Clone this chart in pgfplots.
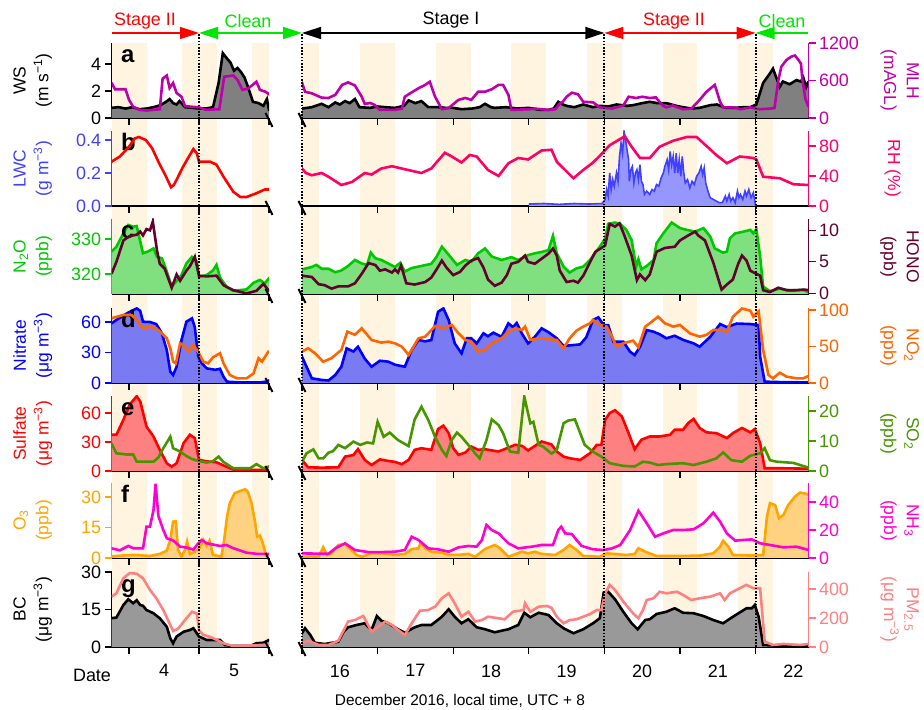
\documentclass[border=0pt]{standalone}
\usepackage{fontspec}
\setmainfont{Liberation Sans}
\usepackage{pgfplots}
\usepackage{pgfplotstable}
\pgfplotsset{compat=1.18}
\usetikzlibrary{arrows.meta}

\definecolor{cMLH}{RGB}{190,0,170}
\definecolor{cRH}{RGB}{255,0,100}
\definecolor{cRHl}{RGB}{255,0,0}
\definecolor{cLWC}{RGB}{64,64,255}
\definecolor{cLWCf}{RGB}{150,150,255}
\definecolor{cN2O}{RGB}{0,200,0}
\definecolor{cN2Of}{RGB}{128,224,128}
\definecolor{cHONO}{RGB}{100,0,45}
\definecolor{cNit}{RGB}{0,0,255}
\definecolor{cNitf}{RGB}{122,122,242}
\definecolor{cNO2}{RGB}{255,100,0}
\definecolor{cSul}{RGB}{255,0,0}
\definecolor{cSulf}{RGB}{255,128,128}
\definecolor{cSO2}{RGB}{70,150,0}
\definecolor{cO3}{RGB}{255,165,0}
\definecolor{cO3f}{RGB}{255,210,130}
\definecolor{cNH3}{RGB}{255,0,210}
\definecolor{cBCf}{RGB}{153,153,153}
\definecolor{cPM}{RGB}{255,128,128}
\definecolor{cWSf}{RGB}{128,128,128}
\definecolor{cNight}{RGB}{255,244,224}
\definecolor{cGreen}{RGB}{0,230,0}

\newcommand{\fs}{\fontsize{18}{21}\selectfont}
\newcommand{\lfs}{\fontsize{17.5}{23}\selectfont}

\pgfplotstableread{
x y
3.75 0.75
3.85 0.8
3.95 0.7
4.05 0.8
4.15 0.65
4.25 0.7
4.35 0.8
4.45 0.95
4.53 1.2
4.58 1.4
4.63 1.1
4.68 1.0
4.72 1.25
4.75 1.1
4.8 0.8
4.9 0.75
5.0 0.7
5.1 0.7
5.2 0.8
5.28 2.6
5.34 4.8
5.4 4.4
5.45 4.1
5.5 3.5
5.55 3.7
5.6 3.4
5.65 3.0
5.7 2.3
5.77 1.2
5.85 1.1
5.92 0.9
5.97 1.4
6.0 0.6
16.0 0.7
16.13 0.8
16.26 1.05
16.35 0.8
16.44 1.15
16.5 1.0
16.57 1.25
16.63 1.1
16.7 1.4
16.76 0.8
16.9 0.75
17.0 0.85
17.1 0.8
17.23 0.75
17.35 0.9
17.41 1.3
17.5 1.1
17.58 1.25
17.67 0.8
17.8 0.8
17.9 0.75
18.0 0.75
18.11 0.65
18.25 0.7
18.35 0.8
18.42 1.05
18.5 0.8
18.55 0.75
18.7 0.8
18.85 0.7
19.0 0.75
19.15 0.6
19.26 0.6
19.33 0.7
19.39 1.2
19.45 1.0
19.5 0.9
19.6 0.8
19.72 1.0
19.85 0.8
19.94 0.9
20.05 0.85
20.16 1.0
20.3 0.9
20.38 0.95
20.5 1.1
20.6 1.2
20.7 1.1
20.82 1.1
20.95 0.9
21.04 0.8
21.15 0.7
21.26 0.75
21.4 0.95
21.49 1.0
21.6 0.75
21.71 0.75
21.85 0.8
21.93 0.8
22.01 1.0
22.1 2.6
22.19 3.3
22.23 3.65
22.28 2.9
22.32 2.3
22.36 2.7
22.45 2.5
22.54 2.8
22.6 2.7
22.63 3.0
22.67 2.3
22.7 2.7
}\tWS

\pgfplotstableread{
x y
3.75 565
3.8 460
3.95 460
4.0 290
4.06 180
4.15 130
4.25 120
4.44 140
4.48 630
4.54 680
4.58 480
4.63 560
4.68 400
4.75 340
4.8 190
5.0 170
5.1 130
5.29 140
5.36 660
5.49 680
5.55 610
5.62 450
5.7 470
5.82 580
5.87 450
5.95 420
6.0 380
16.0 565
16.04 420
16.13 395
16.26 325
16.35 320
16.44 370
16.53 530
16.61 570
16.7 520
16.79 340
16.83 225
16.9 240
16.96 210
17.03 130
17.23 130
17.32 150
17.36 340
17.43 395
17.54 475
17.63 530
17.69 580
17.76 340
17.85 140
17.94 160
18.07 290
18.16 320
18.24 290
18.33 420
18.42 420
18.51 460
18.6 530
18.66 530
18.73 370
18.77 130
19.0 140
19.08 150
19.26 130
19.35 140
19.41 230
19.45 260
19.5 340
19.57 405
19.65 380
19.72 260
19.85 250
19.94 170
20.1 150
20.25 200
20.32 340
20.42 320
20.5 340
20.6 320
20.68 330
20.77 200
20.82 170
20.9 200
21.04 140
21.15 150
21.26 290
21.35 420
21.46 530
21.53 260
21.57 170
21.71 170
21.8 140
21.93 170
22.05 140
22.19 150
22.25 160
22.3 600
22.34 820
22.41 930
22.47 980
22.52 1000
22.56 940
22.6 870
22.62 600
22.66 300
22.7 180
}\tMLH

\pgfplotstableread{
x y
19.0 0.012
19.2 0.015
19.4 0.01
19.6 0.015
19.8 0.012
19.97 0.015
20.01 0.04
20.03 0.1
20.05 0.06
20.07 0.2
20.09 0.1
20.11 0.16
20.13 0.12
20.16 0.2
20.18 0.15
20.2 0.3
20.22 0.38
20.24 0.32
20.26 0.45
20.28 0.4
20.3 0.34
20.32 0.28
20.33 0.15
20.35 0.22
20.37 0.24
20.39 0.14
20.41 0.2
20.43 0.22
20.45 0.16
20.47 0.25
20.49 0.15
20.51 0.13
20.53 0.07
20.56 0.09
20.6 0.07
20.63 0.1
20.66 0.09
20.69 0.13
20.72 0.12
20.75 0.17
20.78 0.2
20.8 0.24
20.83 0.28
20.85 0.22
20.87 0.33
20.89 0.25
20.91 0.3
20.93 0.2
20.95 0.32
20.97 0.2
20.99 0.28
21.01 0.18
21.03 0.3
21.05 0.2
21.07 0.14
21.1 0.16
21.13 0.11
21.16 0.15
21.19 0.13
21.22 0.18
21.25 0.2
21.28 0.24
21.3 0.19
21.32 0.23
21.34 0.14
21.37 0.09
21.4 0.05
21.44 0.04
21.48 0.03
21.52 0.02
21.56 0.02
21.6 0.06
21.62 0.03
21.65 0.07
21.67 0.03
21.7 0.05
21.73 0.02
21.76 0.09
21.78 0.05
21.8 0.07
21.83 0.04
21.86 0.09
21.88 0.06
21.91 0.1
21.94 0.05
21.97 0.08
21.99 0.03
22.0 0.0
}\tLWC

\pgfplotstableread{
x y
3.75 59
3.87 66
4.0 79
4.08 90
4.14 92
4.24 88
4.33 77
4.43 57
4.52 41
4.6 25
4.64 28
4.68 35
4.77 52
4.85 65
4.92 76
4.97 70
5.0 59
5.16 59
5.25 55
5.35 39
5.49 19
5.59 12
5.68 12
5.82 17
5.94 22
6.0 22
16.0 50
16.05 44
16.13 41
16.26 44
16.35 39
16.52 28
16.66 32
16.83 44
16.92 42
17.05 50
17.19 53
17.36 49
17.58 44
17.71 50
17.89 71
17.98 66
18.11 58
18.22 68
18.31 66
18.46 48
18.6 40
18.73 57
18.86 64
18.99 62
19.17 74
19.3 75
19.37 59
19.46 50
19.59 37
19.72 48
19.85 58
19.94 67
20.07 81
20.27 93
20.36 79
20.47 64
20.6 64
20.73 79
20.91 87
21.09 92
21.22 92
21.35 80
21.48 68
21.62 57
21.79 66
21.97 64
22.01 62
22.1 39
22.32 37
22.5 29
22.7 28
}\tRH

\pgfplotstableread{
x y
3.75 326.4
3.82 327.8
3.92 331.6
3.99 334
4.06 333.5
4.11 333.7
4.2 325.9
4.28 326.5
4.35 327.3
4.4 324.9
4.47 324.5
4.54 320.7
4.61 316.4
4.68 318
4.75 319.7
4.82 323
4.9 324.9
4.97 323.5
5.0 319.2
5.11 319.7
5.2 321
5.25 322.6
5.3 319
5.4 316.2
5.49 315.2
5.68 315.6
5.78 317.5
5.87 318.3
5.94 317.3
6.0 318.8
16.0 321.3
16.13 322
16.19 322.6
16.26 321.5
16.35 321.5
16.44 320.5
16.52 321
16.61 322.3
16.7 324
16.79 323
16.86 322.6
16.91 326.1
16.97 324.5
17.05 324
17.14 323
17.23 322
17.3 323.2
17.36 320.7
17.45 321.7
17.58 322.3
17.71 322.9
17.78 324.9
17.85 327.8
17.94 325.5
18.05 322.6
18.16 324
18.24 323.5
18.33 325.9
18.42 327.3
18.51 325
18.64 324
18.77 324.8
18.86 324
18.99 325.4
19.08 325.9
19.17 326.3
19.26 326.8
19.32 330.9
19.37 325.9
19.46 322.1
19.54 320.4
19.63 321.6
19.72 322.1
19.81 324
19.88 326.1
19.94 327.8
20.01 330.2
20.05 334.3
20.14 334.7
20.21 334.3
20.29 332.6
20.36 329.7
20.42 322.1
20.45 324.2
20.49 321.3
20.56 322.3
20.65 324
20.69 328.8
20.78 331.6
20.89 334.7
21.0 333.1
21.09 332.6
21.2 332.1
21.31 333.1
21.4 330.7
21.46 327.3
21.57 326.1
21.62 326.4
21.66 330.2
21.73 331.6
21.84 332.1
21.93 332.6
21.97 331.6
22.01 332.8
22.06 325
22.1 316.4
22.19 315.1
22.32 315.8
22.45 315.3
22.63 315.5
22.7 314.7
}\tNtwoO

\pgfplotstableread{
x y
3.75 3.1
3.82 5.0
3.92 8.4
4.01 9.1
4.11 9.3
4.16 9.8
4.2 9.2
4.25 10.2
4.3 10.0
4.34 11.4
4.4 6.8
4.44 4.7
4.51 3.9
4.61 0.9
4.68 3.0
4.73 2.0
4.82 3.6
4.87 4.3
4.94 5.8
5.0 2.8
5.11 2.7
5.25 2.8
5.35 1.3
5.49 0.5
5.68 0.0
5.82 0.4
5.92 1.5
6.0 0.4
16.0 2.8
16.13 2.6
16.22 1.45
16.3 1.3
16.39 0.75
16.48 1.1
16.61 1.1
16.7 1.6
16.79 3.1
16.88 4.8
16.97 4.5
17.03 3.6
17.1 3.8
17.19 3.3
17.23 3.8
17.27 3.3
17.31 4.4
17.38 1.6
17.49 1.4
17.63 1.8
17.71 2.5
17.78 3.8
17.85 5.2
17.91 4.1
18.0 2.9
18.09 3.4
18.16 4.4
18.24 5.2
18.33 5.6
18.4 4.1
18.46 2.2
18.55 1.2
18.64 1.7
18.71 2.9
18.77 4.7
18.86 5.0
18.95 6.0
18.99 5.0
19.08 4.7
19.17 5.5
19.26 6.3
19.32 7.1
19.37 6.0
19.41 3.6
19.5 1.8
19.59 2.0
19.65 1.7
19.72 2.8
19.81 4.95
19.88 6.6
19.96 7.2
20.01 7.6
20.07 11.0
20.14 10.6
20.2 11.1
20.27 9.0
20.36 6.0
20.43 2.1
20.47 3.0
20.54 2.1
20.6 3.0
20.69 6.6
20.8 7.2
20.93 7.4
21.0 8.4
21.11 9.2
21.2 9.8
21.24 9.2
21.33 8.4
21.44 4.9
21.55 0.6
21.62 1.4
21.7 2.2
21.77 4.7
21.82 6.0
21.88 5.2
21.93 3.6
22.01 3.1
22.06 2.8
22.1 0.5
22.19 0.2
22.3 0.9
22.41 0.5
22.54 0.5
22.65 0.6
22.7 0.5
}\tHONO

\pgfplotstableread{
x y
3.75 58.7
3.82 62
3.97 68.5
4.11 73.4
4.16 71
4.2 60.3
4.3 60
4.39 58
4.47 48.9
4.54 32.4
4.59 11.1
4.63 7.9
4.68 16
4.75 42.3
4.82 60.3
4.9 63.6
4.94 55
4.99 25.9
5.04 19.4
5.11 14.4
5.23 13
5.3 14
5.35 6.2
5.4 1.3
5.6 0.5
5.87 0.5
5.97 1.5
6.0 2.5
16.0 25.9
16.06 16
16.13 4.6
16.26 3
16.35 2.5
16.44 7.9
16.52 16
16.59 34.1
16.68 31
16.74 35.7
16.83 24
16.92 16
17.03 21.9
17.14 21
17.23 18
17.36 16
17.45 32.4
17.54 42.3
17.63 41
17.71 42.3
17.8 70.1
17.87 73.4
17.94 62
18.02 39
18.11 29.2
18.18 44
18.24 44
18.31 39
18.4 48.9
18.46 46
18.53 49.5
18.64 45.5
18.73 58.7
18.79 55
18.84 59
18.91 48.5
18.99 39
19.08 45.5
19.17 53.8
19.26 50
19.37 44
19.46 36.4
19.54 37
19.68 38
19.76 45
19.85 62
19.92 64.6
19.99 57
20.05 57
20.12 40.6
20.25 40.6
20.34 30.8
20.4 27.5
20.47 35.5
20.56 52.1
20.65 50.5
20.73 48
20.82 44
20.93 46.5
21.04 42.5
21.18 39
21.26 35.7
21.4 45.5
21.53 58
21.62 55
21.75 58.5
21.93 58
22.04 57
22.06 26
22.12 1.3
22.37 0.8
22.7 0.6
}\tNit

\pgfplotstableread{
x y
3.75 88.6
3.92 93.2
4.04 93
4.11 86
4.2 74.9
4.3 77
4.39 74.9
4.47 68
4.54 61.2
4.59 47.5
4.63 29.2
4.67 27
4.73 54.4
4.8 50
4.85 42.9
4.92 52
5.0 40.7
5.06 29.2
5.13 27
5.2 35.2
5.3 40.7
5.35 27
5.44 11
5.54 6.4
5.68 6.4
5.78 13.2
5.85 33.8
5.9 29.2
5.99 42.9
16.0 42.9
16.08 47.5
16.17 41
16.28 29.2
16.39 34
16.52 45.2
16.6 70.3
16.7 66
16.79 74.9
16.92 58.9
17.05 55.3
17.14 56.6
17.23 54.3
17.32 49.8
17.41 38.4
17.54 61.2
17.63 63.5
17.76 78
17.87 74.8
17.98 79.5
18.07 68
18.16 58.9
18.24 56.6
18.33 42.9
18.42 45.2
18.51 54.3
18.64 61.2
18.73 70.3
18.82 74.9
18.91 72.6
18.95 77.2
19.02 58.9
19.13 61.2
19.26 60
19.37 58.9
19.46 47.5
19.54 61.2
19.63 71.6
19.72 77.2
19.81 81.8
19.85 86.3
19.94 79.5
20.03 77.2
20.1 63.5
20.16 49.8
20.25 54.3
20.38 58
20.45 48.9
20.54 77.2
20.6 81.8
20.71 90.8
20.8 81.8
20.91 77.2
21.0 79.5
21.13 68
21.26 63.5
21.35 65.8
21.44 72.6
21.53 72.6
21.62 70.3
21.7 90.8
21.82 102
21.93 99
21.97 90.8
22.04 98
22.1 45
22.17 11
22.23 6.4
22.32 14.1
22.41 8.7
22.54 6.4
22.63 6.4
22.7 9.6
}\tNOtwo

\pgfplotstableread{
x y
3.75 37.5
3.82 37.5
3.92 53
4.01 68.8
4.11 77.4
4.16 72
4.25 46
4.35 35.7
4.44 21.9
4.54 8
4.61 4.5
4.68 8
4.78 28.9
4.87 37.5
4.94 34
5.0 11.5
5.11 10
5.25 9
5.39 4.5
5.49 1.5
5.87 1
6.0 1
16.0 11.5
16.08 3.8
16.26 3.5
16.48 3.8
16.57 14.9
16.68 16.5
16.74 22.6
16.83 11.5
16.92 6.2
17.03 12
17.14 10.4
17.23 9.4
17.32 7
17.41 11.5
17.49 21.9
17.58 23.6
17.71 21.9
17.8 43.4
17.87 46.9
17.94 39.2
18.0 23.6
18.07 16.7
18.16 19.1
18.24 25.3
18.33 21.9
18.42 22.6
18.51 21.3
18.6 20.2
18.68 22.6
18.82 27.1
18.91 26
18.99 21.3
19.17 30.5
19.3 27.5
19.37 20.2
19.46 14.9
19.54 13.2
19.68 11.5
19.81 18.4
19.9 27.1
19.96 27.1
20.01 53
20.07 60
20.14 62.8
20.23 56.6
20.32 39.2
20.4 22.6
20.49 32.4
20.6 35.7
20.73 35.7
20.87 37.5
20.93 42.7
21.04 42.7
21.11 49.7
21.18 53.9
21.26 44.5
21.35 40
21.48 39.2
21.62 34.1
21.7 39.2
21.82 44.5
21.93 40
21.99 43.4
22.06 28.9
22.12 2.8
22.37 2.8
22.7 2.4
}\tSul

\pgfplotstableread{
x y
3.75 9.2
3.82 5.9
3.97 5.5
4.06 5.5
4.11 3.1
4.25 3.1
4.35 3.1
4.42 4.5
4.49 7.6
4.59 11.4
4.63 7.6
4.73 6.5
4.82 5
4.9 4
4.97 3.5
5.11 2.8
5.2 3.3
5.28 4.8
5.35 3
5.49 0.9
5.73 0.9
5.82 2.3
5.92 0.9
6.0 1.5
16.0 3.1
16.06 5.9
16.15 7.2
16.22 4.2
16.28 4.2
16.35 6.1
16.41 6.6
16.48 8.7
16.57 7.6
16.68 9.8
16.77 8.7
16.86 9.5
16.94 9.2
17.0 16.4
17.08 11.4
17.16 12.8
17.27 10.3
17.41 8.3
17.49 17.2
17.58 21.4
17.67 17
17.76 11.4
17.85 7
17.91 5
17.98 10.3
18.05 12.8
18.11 11.4
18.2 8.7
18.29 5.9
18.35 4.2
18.44 10.3
18.51 17.2
18.6 15.3
18.66 12.6
18.75 6.5
18.86 6.1
18.94 24.8
19.02 15.9
19.06 16.4
19.13 8.7
19.19 8.1
19.3 5.8
19.37 7
19.46 15.9
19.52 16.8
19.61 17.2
19.68 12.6
19.74 8.7
19.85 6.4
19.96 4.8
20.07 2.6
20.25 1.7
20.4 1.5
20.51 3.1
20.6 2.8
20.71 2
20.82 2.3
21.04 2.6
21.18 2.0
21.35 3.1
21.48 4.2
21.57 6.2
21.68 3.6
21.82 3.1
21.93 5.1
22.06 5.9
22.12 7.6
22.19 3.6
22.28 3.1
22.5 2.7
22.7 1.1
}\tSOtwo

\pgfplotstableread{
x y
3.75 0.7
3.9 1.2
4.06 1.5
4.3 1.0
4.44 2
4.54 3.6
4.59 8.9
4.63 17.9
4.67 18
4.7 4
4.75 0.7
4.8 4
4.83 8
4.87 2
4.94 3
5.01 5
5.06 8.9
5.11 6
5.15 8.5
5.2 1.5
5.32 0.7
5.36 8.9
5.4 20.3
5.44 27
5.51 31.9
5.59 33
5.66 33.8
5.7 32.5
5.75 27
5.8 17.9
5.83 10.5
5.87 11
5.91 7.5
5.96 1
6.0 0.7
16.0 0.6
16.22 0.6
16.28 5.3
16.33 1.5
16.39 2.3
16.48 6.4
16.57 6.9
16.63 4.8
16.72 1.5
16.79 0.6
16.92 2.3
17.05 2.3
17.23 1.5
17.36 2
17.45 4.4
17.54 4.8
17.57 7.5
17.63 4.8
17.71 3.1
17.85 2.6
17.94 1.5
18.07 1.5
18.2 2
18.29 0.6
18.42 4.4
18.55 6.4
18.62 4.8
18.73 0.6
18.91 3.1
18.99 2.3
19.08 3.1
19.17 2
19.35 1.5
19.46 4
19.54 6.4
19.63 4
19.72 1
19.94 0.6
20.03 2.3
20.29 1.5
20.4 2
20.45 4.8
20.54 3.1
20.69 1
21.04 1
21.26 1.2
21.44 2.3
21.53 5.6
21.57 8.5
21.64 5.6
21.7 1.5
21.93 1.2
22.1 1.5
22.15 20.3
22.19 27
22.26 26
22.31 19.6
22.37 21.3
22.43 26
22.52 30.2
22.59 32.2
22.68 31.5
22.7 31
}\tOthree

\pgfplotstableread{
x y
3.75 6.9
3.87 5.5
3.99 8.6
4.06 7
4.2 6.9
4.25 22.4
4.3 22.4
4.35 34.3
4.38 53
4.42 30
4.49 20
4.54 14.1
4.63 12.5
4.73 8.1
4.82 7.5
4.92 6
4.99 10.5
5.04 12.9
5.11 10.5
5.3 8.6
5.39 9.3
5.49 7
5.68 3.8
5.82 3
5.97 2.9
6.0 2.9
16.0 3.3
16.35 3
16.44 6.9
16.57 10.5
16.7 5.7
16.88 4.2
17.05 4.2
17.23 4.5
17.36 5.7
17.45 15.2
17.54 12.9
17.67 6.9
17.8 6.2
17.94 4.5
18.07 7.6
18.2 8.6
18.31 8.1
18.38 12.9
18.44 23.6
18.51 20
18.6 17.6
18.73 10.5
18.86 6.9
19.04 8.1
19.17 9.3
19.32 9.3
19.39 20
19.43 22.4
19.48 17.6
19.57 17.1
19.63 12.9
19.7 8.6
19.85 6.2
19.99 5.7
20.1 6.9
20.21 9.3
20.34 20
20.45 33.8
20.56 24.8
20.67 15.2
20.78 17.6
20.91 20
21.04 20
21.18 20.5
21.31 24.8
21.44 32.4
21.53 26
21.62 17.6
21.73 12.4
21.84 12.9
21.95 13.3
22.06 10.5
22.19 9.3
22.37 7.6
22.54 8.1
22.7 5.7
}\tNHthree

\pgfplotstableread{
x y
3.75 11.5
3.82 11.8
3.92 16.8
3.99 19.1
4.06 17.5
4.11 18.7
4.16 16.8
4.2 16.5
4.25 14.8
4.35 13.5
4.44 11.5
4.54 8.1
4.59 3.5
4.63 1.5
4.68 4.2
4.78 6.1
4.87 6.8
4.92 7.5
5.0 4.2
5.11 2.8
5.3 2.8
5.37 0.8
5.49 0.4
5.73 0.4
5.82 1.5
5.92 1.7
6.0 2.8
16.0 5.5
16.04 7.5
16.11 4.8
16.17 1.7
16.3 1.2
16.48 2.1
16.55 6.1
16.61 7.9
16.72 8.8
16.83 9.5
16.92 6.8
16.99 12.4
17.05 10.5
17.14 9.5
17.27 7.1
17.36 5.7
17.49 7.9
17.58 8.8
17.71 8.8
17.85 12.1
17.94 15.1
18.02 12.1
18.11 9.5
18.2 11.1
18.31 7.9
18.42 7.1
18.55 5.9
18.73 7.1
18.86 8.8
18.94 13.7
19.02 11.9
19.13 13.7
19.26 12.8
19.37 9.5
19.46 7.5
19.59 5.5
19.72 7.1
19.85 9.5
19.94 11.5
19.99 21.7
20.05 22.1
20.14 19.1
20.25 14.1
20.36 9.5
20.44 7.1
20.54 10.8
20.6 11.1
20.69 13.2
20.82 14.1
20.93 15.5
21.04 13.7
21.18 13.5
21.31 12.4
21.44 10.8
21.57 9.5
21.7 12.1
21.88 15.5
21.95 15.5
21.99 16.8
22.04 12.1
22.1 0.8
22.37 0.4
22.7 0.4
}\tBC

\pgfplotstableread{
x y
3.75 347
3.82 370
3.92 474
4.01 510
4.11 505
4.2 474
4.3 393
4.39 336
4.49 255
4.59 152
4.63 110
4.7 125
4.8 186
4.9 243
4.97 230
5.0 115
5.06 83
5.16 70
5.25 50
5.35 25
5.49 7
5.73 10
5.92 15
6.0 20
16.0 21
16.08 43
16.22 14
16.35 14
16.48 43
16.61 175
16.7 186
16.81 214
16.92 106
17.01 140
17.1 175
17.19 152
17.27 117
17.36 83
17.45 163
17.56 250
17.67 255
17.76 278
17.85 336
17.94 370
18.02 301
18.11 209
18.2 243
18.29 175
18.38 186
18.46 209
18.6 198
18.68 191
18.79 243
18.93 255
18.95 301
19.02 243
19.13 278
19.24 283
19.3 270
19.37 209
19.46 163
19.54 186
19.63 191
19.72 209
19.81 227
19.9 255
19.96 255
20.01 370
20.07 428
20.14 393
20.25 313
20.38 232
20.45 198
20.51 255
20.56 324
20.65 336
20.73 381
20.82 370
20.96 381
21.04 359
21.15 324
21.26 336
21.4 347
21.53 370
21.59 324
21.66 370
21.79 405
21.88 428
21.97 405
22.06 405
22.12 37
22.23 14
22.37 21
22.59 14
22.7 21
}\tPM

\tikzset{
  lw/.style={line width=2.6bp},
  letter/.style={font=\bfseries\fontsize{24}{24}\selectfont, anchor=base west, inner sep=0pt},
}
\pgfplotsset{
  base/.style={scale only axis, height=75bp, anchor=south west,
    tick align=outside, major tick length=7bp,
    tick style={line width=1.2bp, black}, axis line style={line width=1.2bp},
    /pgf/number format/assume math mode=true,
    /pgf/number format/1000 sep={},
    scaled ticks=false,
    ticklabel style={font=\fs},
    label style={font=\lfs},
    ylabel style={align=center, anchor=center},
    xticklabels={}, no markers},
  Lseg/.style={base, width=157.5bp, xmin=3.75, xmax=6, xtick={4,5,6}},
  Rseg/.style={base, width=506.5bp, xmin=16, xmax=22.7, xtick={16,17,18,19,20,21,22}},
  primL/.style={axis y line*=left, axis x line*=bottom,
    ylabel style={at={(axis description cs:-0.5,0.5)}}},
  primR/.style={axis x line*=bottom, axis y line=none, ytick=\empty},
  secL/.style={hide axis},
  secR/.style={axis y line*=right, axis x line=none,
    ylabel style={at={(axis description cs:1.18,0.5)}, rotate=180}},
  ycol/.style={y axis line style={#1}, ytick style={#1}, yticklabel style={text=#1}, ylabel style={text=#1}},
  gL/.style={extra x ticks={4.5,5.5}, extra x tick labels={4,5},
    extra x tick style={major tick length=0pt, xticklabel style={yshift=-14bp}}},
  gR/.style={extra x ticks={16.5,17.5,18.5,19.5,20.5,21.5,22.5}, extra x tick labels={16,17,18,19,20,21,22},
    extra x tick style={major tick length=0pt, xticklabel style={yshift=-14bp}}},
}

\begin{document}
\begin{tikzpicture}
\useasboundingbox (0bp,0bp) rectangle (924bp,710bp);

% ---------- night shading (background) ----------
\begin{axis}[scale only axis, anchor=south west, width=157.5bp, height=604bp, at={(111.5bp,63bp)},
  xmin=3.75, xmax=6, ymin=0, ymax=604, hide axis]
\fill[cNight] (axis cs:3.75,0) rectangle (axis cs:4.25,604);
\fill[cNight] (axis cs:4.75,0) rectangle (axis cs:5.25,604);
\fill[cNight] (axis cs:5.75,0) rectangle (axis cs:6.0,604);
\end{axis}
\begin{axis}[scale only axis, anchor=south west, width=506.5bp, height=604bp, at={(302bp,63bp)},
  xmin=16, xmax=22.7, ymin=0, ymax=604, hide axis]
\fill[cNight] (axis cs:16.0,0) rectangle (axis cs:16.23,604);
\fill[cNight] (axis cs:16.77,0) rectangle (axis cs:17.23,604);
\fill[cNight] (axis cs:17.77,0) rectangle (axis cs:18.23,604);
\fill[cNight] (axis cs:18.77,0) rectangle (axis cs:19.23,604);
\fill[cNight] (axis cs:19.77,0) rectangle (axis cs:20.23,604);
\fill[cNight] (axis cs:20.77,0) rectangle (axis cs:21.23,604);
\fill[cNight] (axis cs:21.77,0) rectangle (axis cs:22.23,604);
\end{axis}

% ---------- panel a ----------
\begin{axis}[Lseg, primL, at={(111.5bp,592bp)}, ymin=0, ymax=5.55, ytick={0,2,4}, ycol=black,
  ylabel={WS\\(m s\textsuperscript{−1})}]
\addplot[fill=cWSf, draw=none] table {\tWS} \closedcycle;
\addplot[black, lw] table {\tWS};
\node[letter] at ([xshift=9.5bp,yshift=-20bp]rel axis cs:0,1) {a};
\end{axis}
\begin{axis}[Lseg, secL, at={(111.5bp,592bp)}, ymin=0, ymax=1200]
\addplot[cMLH, lw] table {\tMLH};
\end{axis}
\begin{axis}[Rseg, primR, at={(302bp,592bp)}, ymin=0, ymax=5.55]
\addplot[fill=cWSf, draw=none] table {\tWS} \closedcycle;
\addplot[black, lw] table {\tWS};
\end{axis}
\begin{axis}[Rseg, secR, at={(302bp,592bp)}, ymin=0, ymax=1200, ytick={0,600,1200}, ycol=cMLH,
  ylabel={MLH\\(mAGL)}]
\addplot[cMLH, lw] table {\tMLH};
\end{axis}

% ---------- panel b ----------
\begin{axis}[Lseg, primL, at={(111.5bp,504bp)}, ymin=0, ymax=0.4545, ytick={0,0.2,0.4}, ycol=cLWC,
  yticklabel style={/pgf/number format/.cd, fixed, fixed zerofill, precision=1},
  ylabel={LWC\\(g m\textsuperscript{−3})}]
\addplot[fill=cLWCf, draw=none] table {\tLWC} \closedcycle;
\addplot[cLWC, line width=1.6bp] table {\tLWC};
\node[letter] at ([xshift=9.5bp,yshift=-20bp]rel axis cs:0,1) {b};
\end{axis}
\begin{axis}[Lseg, secL, at={(111.5bp,504bp)}, ymin=0, ymax=100]
\addplot[cRHl, lw] table {\tRH};
\end{axis}
\begin{axis}[Rseg, primR, at={(302bp,504bp)}, ymin=0, ymax=0.4545]
\addplot[fill=cLWCf, draw=none] table {\tLWC} \closedcycle;
\addplot[cLWC, line width=1.6bp] table {\tLWC};
\end{axis}
\begin{axis}[Rseg, secR, at={(302bp,504bp)}, ymin=0, ymax=100, ytick={0,40,80}, ycol=cRH,
  ylabel style={at={(axis description cs:1.166,0.5)}},
  ylabel={RH (\%)}]
\addplot[cRH, lw] table {\tRH};
\end{axis}

% ---------- panel c ----------
\begin{axis}[Lseg, primL, at={(111.5bp,416bp)}, ymin=314.29, ymax=335.71, ytick={320,330}, ycol=cN2O,
  ylabel={N\textsubscript{2}O\\(ppb)}]
\addplot[fill=cN2Of, draw=none] table {\tNtwoO} \closedcycle;
\addplot[cN2O, lw] table {\tNtwoO};
\node[letter] at ([xshift=9.5bp,yshift=-20bp]rel axis cs:0,1) {c};
\end{axis}
\begin{axis}[Lseg, secL, at={(111.5bp,416bp)}, ymin=-0.1, ymax=11.8]
\addplot[cHONO, lw] table {\tHONO};
\end{axis}
\begin{axis}[Rseg, primR, at={(302bp,416bp)}, ymin=314.29, ymax=335.71]
\addplot[fill=cN2Of, draw=none] table {\tNtwoO} \closedcycle;
\addplot[cN2O, lw] table {\tNtwoO};
\end{axis}
\begin{axis}[Rseg, secR, at={(302bp,416bp)}, ymin=-0.1, ymax=11.8, ytick={0,5,10}, ycol=cHONO,
  ylabel={HONO\\(ppb)}]
\addplot[cHONO, lw] table {\tHONO};
\end{axis}

% ---------- panel d ----------
\begin{axis}[Lseg, primL, at={(111.5bp,327bp)}, ymin=0, ymax=73.8, ytick={0,30,60}, ycol=cNit,
  ylabel={Nitrate\\(μg m\textsuperscript{−3})}]
\addplot[fill=cNitf, draw=none] table {\tNit} \closedcycle;
\addplot[cNit, lw] table {\tNit};
\node[letter] at ([xshift=9.5bp,yshift=-20bp]rel axis cs:0,1) {d};
\end{axis}
\begin{axis}[Lseg, secL, at={(111.5bp,327bp)}, ymin=0, ymax=102.7]
\addplot[cNO2, lw] table {\tNOtwo};
\end{axis}
\begin{axis}[Rseg, primR, at={(302bp,327bp)}, ymin=0, ymax=73.8]
\addplot[fill=cNitf, draw=none] table {\tNit} \closedcycle;
\addplot[cNit, lw] table {\tNit};
\end{axis}
\begin{axis}[Rseg, secR, at={(302bp,327bp)}, ymin=0, ymax=102.7, ytick={0,50,100}, ycol=cNO2,
  ylabel={NO\textsubscript{2}\\(ppb)}]
\addplot[cNO2, lw] table {\tNOtwo};
\end{axis}

% ---------- panel e ----------
\begin{axis}[Lseg, primL, at={(111.5bp,239bp)}, ymin=0, ymax=77.6, ytick={0,30,60}, ycol=cSul,
  ylabel={Sulfate\\(μg m\textsuperscript{−3})}]
\addplot[fill=cSulf, draw=none] table {\tSul} \closedcycle;
\addplot[cSul, lw] table {\tSul};
\node[letter] at ([xshift=9.5bp,yshift=-20bp]rel axis cs:0,1) {e};
\end{axis}
\begin{axis}[Lseg, secL, at={(111.5bp,239bp)}, ymin=0, ymax=25]
\addplot[cSO2, lw] table {\tSOtwo};
\end{axis}
\begin{axis}[Rseg, primR, at={(302bp,239bp)}, ymin=0, ymax=77.6]
\addplot[fill=cSulf, draw=none] table {\tSul} \closedcycle;
\addplot[cSul, lw] table {\tSul};
\end{axis}
\begin{axis}[Rseg, secR, at={(302bp,239bp)}, ymin=0, ymax=25, ytick={0,10,20}, ycol=cSO2,
  ylabel={SO\textsubscript{2}\\(ppb)}]
\addplot[cSO2, lw] table {\tSOtwo};
\end{axis}

% ---------- panel f ----------
\begin{axis}[Lseg, primL, at={(111.5bp,152bp)}, ymin=0, ymax=36.9, ytick={0,15,30}, ycol=cO3,
  ylabel={O\textsubscript{3}\\(ppb)}]
\addplot[fill=cO3f, draw=none] table {\tOthree} \closedcycle;
\addplot[cO3, lw] table {\tOthree};
\node[letter] at ([xshift=9.5bp,yshift=-20bp]rel axis cs:0,1) {f};
\end{axis}
\begin{axis}[Lseg, secL, at={(111.5bp,152bp)}, ymin=0, ymax=53.6]
\addplot[cNH3, lw] table {\tNHthree};
\end{axis}
\begin{axis}[Rseg, primR, at={(302bp,152bp)}, ymin=0, ymax=36.9]
\addplot[fill=cO3f, draw=none] table {\tOthree} \closedcycle;
\addplot[cO3, lw] table {\tOthree};
\end{axis}
\begin{axis}[Rseg, secR, at={(302bp,152bp)}, ymin=0, ymax=53.6, ytick={0,20,40}, ycol=cNH3,
  ylabel={NH\textsubscript{3}\\(ppb)}]
\addplot[cNH3, lw] table {\tNHthree};
\end{axis}

% ---------- panel g ----------
\begin{axis}[Lseg, primL, gL, at={(111.5bp,63bp)}, ymin=0, ymax=30, ytick={0,15,30}, ycol=black,
  ylabel={BC\\(μg m\textsuperscript{−3})}]
\addplot[fill=cBCf, draw=none] table {\tBC} \closedcycle;
\addplot[black, lw] table {\tBC};
\node[letter] at ([xshift=9.5bp,yshift=-20bp]rel axis cs:0,1) {g};
\end{axis}
\begin{axis}[Lseg, secL, at={(111.5bp,63bp)}, ymin=0, ymax=517]
\addplot[cPM, lw] table {\tPM};
\end{axis}
\begin{axis}[Rseg, primR, gR, at={(302bp,63bp)}, ymin=0, ymax=30]
\addplot[fill=cBCf, draw=none] table {\tBC} \closedcycle;
\addplot[black, lw] table {\tBC};
\end{axis}
\begin{axis}[Rseg, secR, at={(302bp,63bp)}, ymin=0, ymax=517, ytick={0,200,400}, ycol=cPM,
  ylabel={PM\textsubscript{2.5}\\(μg m\textsuperscript{−3})}]
\addplot[cPM, lw] table {\tPM};
\end{axis}

% ---------- overlays: dotted stage lines and axis breaks ----------
\begin{axis}[scale only axis, anchor=south west, width=157.5bp, height=604bp, at={(111.5bp,63bp)},
  xmin=3.75, xmax=6, ymin=0, ymax=604, hide axis, clip=false]
\draw[line width=2bp, dash pattern=on 1.6bp off 1.6bp] (axis cs:5,0) -- (axis cs:5,614);
\pgfplotsinvokeforeach{529,441,353,264,176,89,0}{
  \draw[line width=2bp] ([xshift=-3.5bp,yshift=5bp]axis cs:6,#1) -- ([xshift=3.5bp,yshift=-9bp]axis cs:6,#1);
}
\end{axis}
\begin{axis}[scale only axis, anchor=south west, width=506.5bp, height=604bp, at={(302bp,63bp)},
  xmin=16, xmax=22.7, ymin=0, ymax=604, hide axis, clip=false]
\draw[line width=2bp, dash pattern=on 1.6bp off 1.6bp] (axis cs:16,0) -- (axis cs:16,614);
\draw[line width=2bp, dash pattern=on 1.6bp off 1.6bp] (axis cs:20,0) -- (axis cs:20,614);
\draw[line width=2bp, dash pattern=on 1.6bp off 1.6bp] (axis cs:22,0) -- (axis cs:22,614);
\pgfplotsinvokeforeach{529,441,353,264,176,89,0}{
  \draw[line width=2bp] ([xshift=-3.5bp,yshift=5bp]axis cs:16,#1) -- ([xshift=3.5bp,yshift=-9bp]axis cs:16,#1);
}
\end{axis}

% ---------- stage arrows ----------
\draw[line width=1.5bp, cSul, -{Triangle[length=19bp,width=12bp]}] (111.5bp,677bp) -- (199bp,677bp);
\draw[line width=1.5bp, cGreen, {Triangle[length=19bp,width=12bp]}-{Triangle[length=19bp,width=12bp]}] (199bp,677bp) -- (302bp,677bp);
\draw[line width=1.5bp, black, {Triangle[length=19bp,width=12bp]}-{Triangle[length=19bp,width=12bp]}] (302bp,677bp) -- (604.4bp,677bp);
\draw[line width=1.5bp, cSul, {Triangle[length=19bp,width=12bp]}-{Triangle[length=19bp,width=12bp]}] (604.4bp,677bp) -- (755.6bp,677bp);
\draw[line width=1.5bp, cGreen, {Triangle[length=19bp,width=12bp]}-] (755.6bp,677bp) -- (808bp,677bp);
\node[font=\fs, text=cSul] at (145bp,689bp) {Stage II};
\node[font=\fs, text=cGreen] at (248bp,689bp) {Clean};
\node[font=\fs, text=black] at (451bp,690bp) {Stage I};
\node[font=\fs, text=cSul] at (674bp,689bp) {Stage II};
\node[font=\fs, text=cGreen] at (782bp,689bp) {Clean};

% ---------- bottom texts ----------
\node[font=\fs] at (92bp,35bp) {Date};
\node[font=\fontsize{15.5}{18}\selectfont] at (460bp,9bp) {December 2016, local time, UTC + 8};
\end{tikzpicture}
\end{document}
